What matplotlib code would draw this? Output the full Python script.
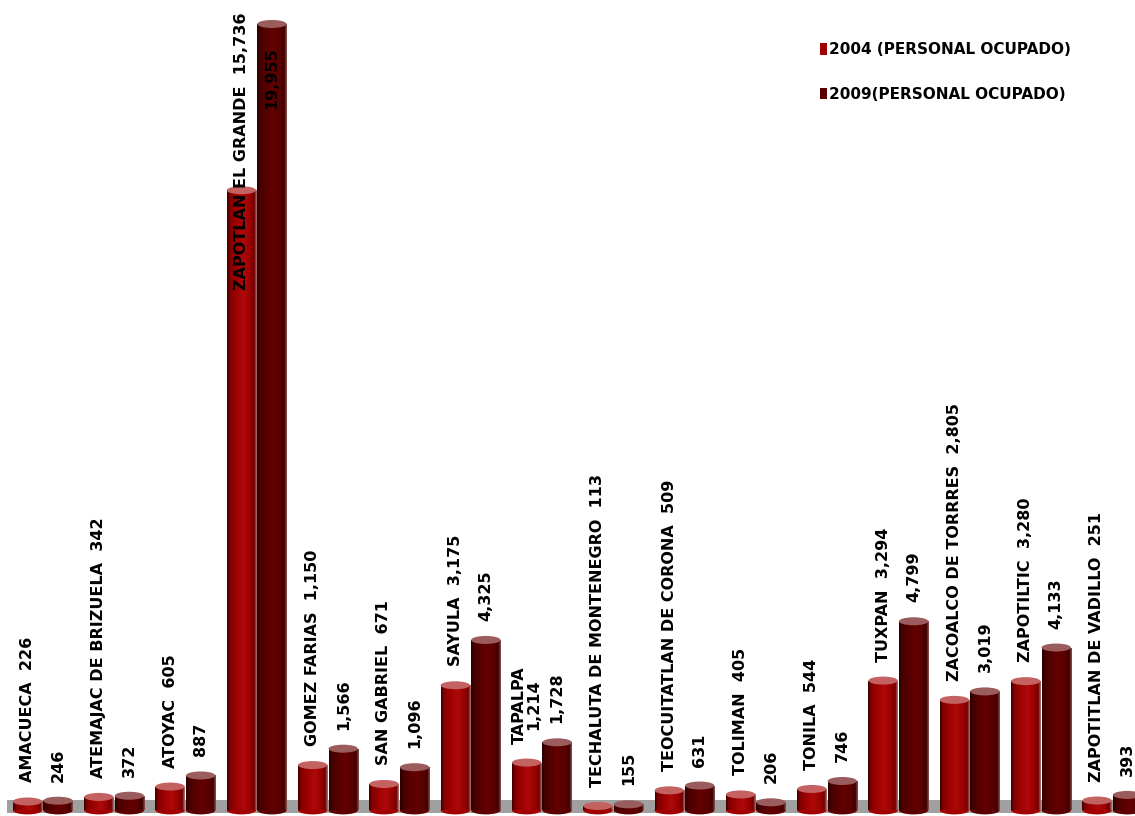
import numpy as np
import matplotlib
matplotlib.use("Agg")
import matplotlib.pyplot as plt
from matplotlib.patches import Ellipse, Rectangle, Patch
from matplotlib.colors import LinearSegmentedColormap

# ---------------- data ----------------
municipios = ["AMACUECA", "ATEMAJAC DE BRIZUELA", "ATOYAC", "ZAPOTLAN EL GRANDE",
              "GOMEZ FARIAS", "SAN GABRIEL", "SAYULA", "TAPALPA",
              "TECHALUTA DE MONTENEGRO", "TEOCUITATLAN DE CORONA", "TOLIMAN", "TONILA",
              "TUXPAN", "ZACOALCO DE TORRRES", "ZAPOTILTIC", "ZAPOTITLAN DE VADILLO"]
personal_2004 = [226, 342, 605, 15736, 1150, 671, 3175, 1214,
                 113, 509, 405, 544, 3294, 2805, 3280, 251]
personal_2009 = [246, 372, 887, 19955, 1566, 1096, 4325, 1728,
                 155, 631, 206, 746, 4799, 3019, 4133, 393]
series_labels = ["2004 (PERSONAL OCUPADO)", "2009(PERSONAL OCUPADO)"]

# ---------------- figure ----------------
W, H, DPI = 1135, 816, 100
fig = plt.figure(figsize=(W / DPI, H / DPI), dpi=DPI)
ax = fig.add_axes([0, 0, 1, 1])
ax.axis("off")

px_x = 71.3            # pixels per category
px_y = 0.03941         # pixels per unit
base_px = H - 810.4    # baseline distance from bottom, px
x_left = -42.75 / px_x
x_right = (W - 42.75) / px_x
y_bottom = -base_px / px_y
y_top = (H - base_px) / px_y
u = 1 / px_y           # data units per vertical pixel

bar_w = 0.41
off = 0.214

cmap04 = LinearSegmentedColormap.from_list("c04", [
    (0.0, "#3a0000"), (0.08, "#7c0000"), (0.3, "#9e0000"), (0.55, "#ae0a0a"),
    (0.8, "#960000"), (0.92, "#700000"), (1.0, "#b07070")])
cmap09 = LinearSegmentedColormap.from_list("c09", [
    (0.0, "#280000"), (0.1, "#460000"), (0.5, "#640000"), (0.8, "#580000"),
    (0.92, "#3e0000"), (1.0, "#8a5050")])
top04, top09 = "#c46262", "#9a5c5c"
mid04, mid09 = "#a00000", "#5a0000"

# floor
ax.add_patch(Rectangle((x_left + 7 / px_x, -2.6 * u), x_right - x_left, 13 * u,
                       facecolor="#a0a0a0", edgecolor="none", zorder=1))

x = np.arange(len(municipios))
grad = np.linspace(0, 1, 64).reshape(1, -1)
ell_h = 8 * u

def draw_series(xpos, vals, cmap, midc, topc):
    bars = ax.bar(xpos, vals, width=bar_w, color=midc, zorder=2, linewidth=0)
    for rect, v in zip(bars, vals):
        x0 = rect.get_x()
        x1 = x0 + rect.get_width()
        im = ax.imshow(grad, cmap=cmap, extent=(x0, x1, 0, v), aspect="auto",
                       zorder=3, interpolation="bilinear")
        im.set_clip_path(rect)
        xc = x0 + rect.get_width() / 2
        ax.add_patch(Ellipse((xc, 0), rect.get_width(), ell_h,
                             facecolor=midc, edgecolor="none", zorder=2.5))
        ax.add_patch(Ellipse((xc, v), rect.get_width(), ell_h,
                             facecolor=topc, edgecolor="none", zorder=4))
    return bars

draw_series(x - off, personal_2004, cmap04, mid04, top04)
draw_series(x + off, personal_2009, cmap09, mid09, top09)

# labels
fs = 11.5
pad = 19 * u
for i, (n, v4, v9) in enumerate(zip(municipios, personal_2004, personal_2009)):
    sep = "\n" if n == "TAPALPA" else "  "
    t4 = f"{n}{sep}{v4:,}"
    t9 = f"{v9:,}"
    if v4 > 10000:
        ax.text(i - off, y_top - 12 * u, t4, rotation=90, ha="center", va="top",
                fontsize=fs, fontweight="bold", color="black", zorder=6)
    else:
        ax.text(i - off, v4 + pad, t4, rotation=90, ha="center", va="bottom",
                fontsize=fs, fontweight="bold", color="black", zorder=6,
                multialignment="center", linespacing=1.0)
    if v9 > 10000:
        ax.text(i + off, v9 - 23 * u, t9, rotation=90, ha="center", va="top",
                fontsize=fs, fontweight="bold", color="black", zorder=6)
    else:
        ax.text(i + off, v9 + pad, t9, rotation=90, ha="center", va="bottom",
                fontsize=fs, fontweight="bold", color="black", zorder=6)

ax.set_xlim(x_left, x_right)
ax.set_ylim(y_bottom, y_top)

handles = [Patch(facecolor=mid04, edgecolor="none"), Patch(facecolor=mid09, edgecolor="none")]
leg = ax.legend(handles, series_labels, loc="upper left",
                bbox_to_anchor=(820 / W, 1 - 42 / H), bbox_transform=fig.transFigure,
                frameon=False, prop={"weight": "bold", "size": 11},
                handlelength=0.45, handleheight=0.8, handletextpad=0.15,
                labelspacing=1.95, borderpad=0, borderaxespad=0)

fig.savefig("out.png", dpi=DPI, facecolor="white")
